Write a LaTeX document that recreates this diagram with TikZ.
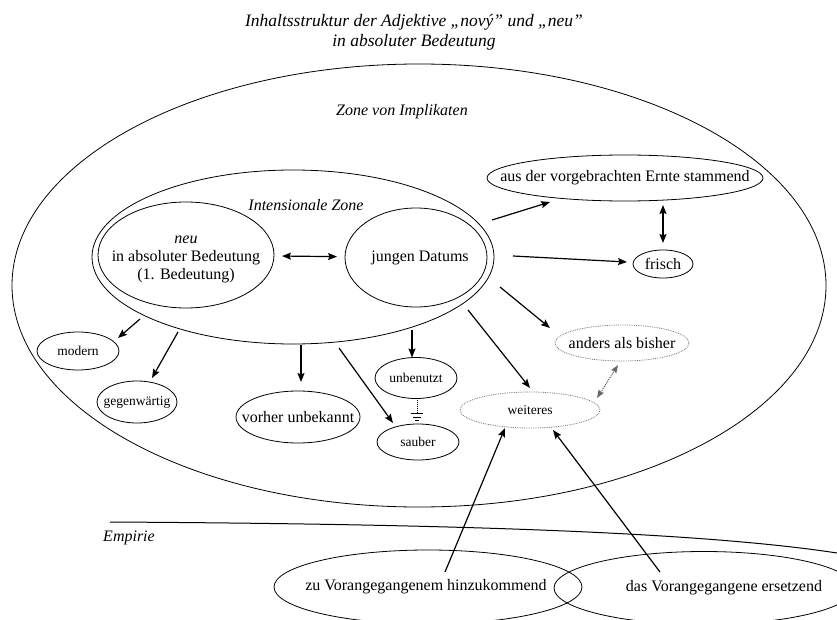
\documentclass[tikz,border=0pt]{standalone}
\usepackage{fontspec}
\setmainfont{Liberation Serif}
\usetikzlibrary{arrows.meta,shapes.geometric,calc}
\newcommand\fntA{\fontsize{16}{18}\selectfont}
\newcommand\fntT{\fontsize{17.5}{20}\selectfont}
\newcommand\fntB{\fontsize{13.5}{15}\selectfont}
\begin{document}
\begin{tikzpicture}[x=1pt,y=-1pt,
  ell/.style={ellipse,draw,line width=0.8pt,inner sep=0pt,outer sep=0pt},
  dell/.style={ellipse,draw=black!55,densely dotted,line width=0.8pt,inner sep=0pt,outer sep=0pt},
  arr/.style={line width=1.2pt,-{Stealth[length=9pt,width=7pt,inset=1.5pt]}},
  darr/.style={line width=1.2pt,{Stealth[length=9pt,width=7pt,inset=1.5pt]}-{Stealth[length=9pt,width=7pt,inset=1.5pt]}},
  garr/.style={line width=1.1pt,draw=black!60,densely dotted,{Stealth[length=8pt,width=6pt,inset=1pt]}-{Stealth[length=8pt,width=6pt,inset=1pt]}},
  big/.style={font=\fntA},
  small/.style={font=\fntB},
  it/.style={font=\fntA\itshape}]
\useasboundingbox (0,0) rectangle (837,620);

% title
\node[font=\fntT\itshape,align=center] (title) at (414,32)
  {Inhaltsstruktur der Adjektive „nový” und „neu”\\in absoluter Bedeutung};

% zones
\node[ell,minimum width=814pt,minimum height=443pt] (impl) at (419,285.5) {};
\node[it] (impllab) at (402,112) {Zone von Implikaten};
\node[ell,minimum width=402pt,minimum height=174pt] (iz) at (293,257) {};
\node[it] (izlab) at (306,205) {Intensionale Zone};

% inner nodes
\node[ell,minimum width=176pt,minimum height=106pt,
  label={[big,align=center,yshift=-4pt]center:{\textit{neu}\\in absoluter Bedeutung\\(1. Bedeutung)}}] (neu) at (186,255) {};
\node[ell,minimum width=142pt,minimum height=99pt,
  label={[big,xshift=4pt]center:jungen Datums}] (jung) at (416,257.5) {};

% implicates
\node[ell,minimum width=276pt,minimum height=46pt,
  label={[big]center:aus der vorgebrachten Ernte stammend}] (aus) at (625,178) {};
\node[ell,minimum width=60pt,minimum height=28pt,
  label={[big]center:frisch}] (frisch) at (663,264) {};
\node[ell,minimum width=82pt,minimum height=38pt,
  label={[small]center:modern}] (modern) at (78,351) {};
\node[ell,minimum width=80pt,minimum height=42pt,
  label={[small]center:gegenwärtig}] (gegen) at (137,402) {};
\node[ell,minimum width=124pt,minimum height=52pt,
  label={[big]center:vorher unbekannt}] (vorher) at (298,417) {};
\node[ell,minimum width=82pt,minimum height=41pt,
  label={[small]center:unbenutzt}] (unben) at (416,378) {};
\node[ell,minimum width=82pt,minimum height=36pt,
  label={[small]center:sauber}] (sauber) at (418,442) {};
\node[dell,minimum width=134pt,minimum height=36pt,
  label={[big]center:anders als bisher}] (anders) at (622,343) {};
\node[dell,minimum width=140pt,minimum height=36pt,
  label={[small]center:weiteres}] (weit) at (530,410) {};

% empirie
\coordinate (e1) at (110,522);
\coordinate (e2) at (837,553);
\draw[line width=1pt] (e1) .. controls (450,524) and (700,532) .. (e2);
\node[it] (emp) at (129,538) {Empirie};
\node[ell,minimum width=308pt,minimum height=74pt,
  label={[big,xshift=-2pt]center:zu Vorangegangenem hinzukommend}] (zuvor) at (428,587) {};
\node[ell,minimum width=300pt,minimum height=73pt,
  label={[big,xshift=20pt]center:das Vorangegangene ersetzend}] (ersetz) at (704,588) {};

% connectors
\draw[darr,shorten <=8pt,shorten >=8pt] (neu) -- (jung);
\coordinate (s2) at (492,220); \coordinate (t2) at (550,202);
\draw[arr] (s2) -- (t2);
\coordinate (s3) at (513,256); \coordinate (t3) at (627,262);
\draw[arr] (s3) -- (t3);
\draw[darr,shorten <=4pt,shorten >=7pt] (aus.south -| frisch.north) -- (frisch.north);
\coordinate (s5) at (500,287); \coordinate (t5) at (550,328);
\draw[arr] (s5) -- (t5);
\coordinate (s6) at (468,310); \coordinate (t6) at (530,388);
\draw[arr] (s6) -- (t6);
\coordinate (s7) at (597,398); \coordinate (t7) at (618,365);
\draw[garr] (s7) -- (t7);
\coordinate (s8) at (412,330);
\draw[arr] (s8) -- (unben.north -| s8);
\coordinate (s10) at (339,348); \coordinate (t10) at (393,423);
\draw[arr] (s10) -- (t10);
\coordinate (s11) at (301,345); \coordinate (t11) at (301,382);
\draw[arr] (s11) -- (t11);
\coordinate (s12) at (178,332); \coordinate (t12) at (152,378);
\draw[arr] (s12) -- (t12);
\coordinate (s13) at (140,319); \coordinate (t13) at (118,338);
\draw[arr] (s13) -- (t13);
\coordinate (s14) at (445,572); \coordinate (t14) at (505,428);
\draw[arr] (s14) -- (t14);
\coordinate (s15) at (660,572); \coordinate (t15) at (553,430);
\draw[arr] (s15) -- (t15);

% unbenutzt -> sauber (dotted with barred head)
\coordinate (g0) at (417,398);
\coordinate (g1) at (417,413);
\draw[line width=1pt,densely dotted] (g0) -- (g1);
\draw[line width=0.8pt] (411,413.5) -- (423,413.5)
  (413,417) -- (421,417) (415,420.5) -- (419,420.5);
\end{tikzpicture}
\end{document}
